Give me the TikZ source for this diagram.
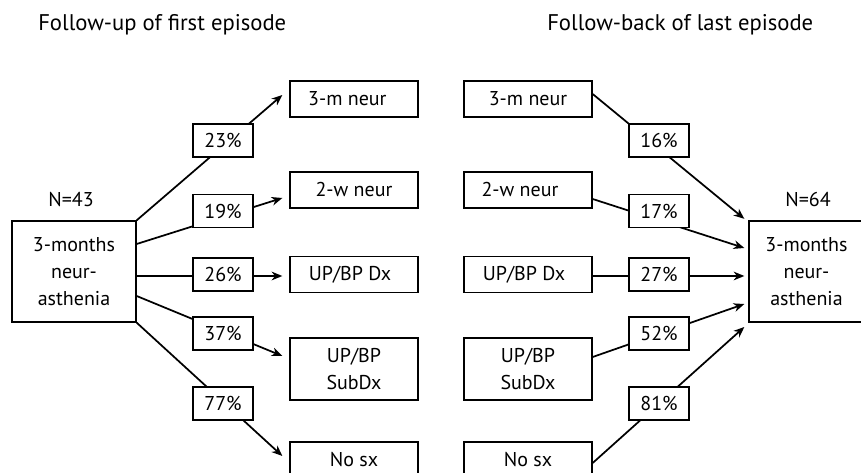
\documentclass[tikz,border=0pt]{standalone}
\usepackage{fontspec}
\setmainfont{PT Sans}
\usetikzlibrary{positioning,calc,arrows.meta}

\begin{document}
\begin{tikzpicture}[
  x=0.75pt, y=-0.75pt,
  font=\fontsize{15}{20.5}\selectfont,
  stagebox/.style={draw,line width=1pt,inner sep=2pt,align=center},
  outcome/.style={stagebox,minimum width=96pt,minimum height=27pt},
  mainbox/.style={stagebox,minimum width=93pt,minimum height=75.75pt},
  pct/.style={draw,fill=white,line width=1pt,minimum width=45pt,minimum height=24.75pt,inner sep=1pt},
  flow/.style={line width=1.3pt,-{Stealth[length=8pt,width=6.5pt,inset=2.5pt]}},
  heading/.style={anchor=west,inner sep=0pt,font=\fontsize{17}{20}\selectfont}
]
  \useasboundingbox (0,0) rectangle (861,473);

  % titles
  \node[heading] (titleL) at (38,25) {Follow-up of first episode};
  \node[heading] (titleR) at (547,25) {Follow-back of last episode};

  % left: follow-up
  \node[mainbox] (L) at (74,271.5) {3-months\\neur-\\asthenia};
  \node (NL) at (71,200) {N=43};
  \node[outcome] (m3L) at (354,99) {3-m neur\hspace*{10pt}};
  \node[outcome] (m2L) at (354,190) {2-w neur};
  \node[outcome] (dxL) at (354,274.5) {UP/BP Dx\hspace*{6pt}};
  \node[outcome,minimum height=46.5pt] (sdL) at (354,369) {UP/BP\\SubDx};
  \node[outcome] (nsL) at (354,460) {No sx};

  % right: follow-back
  \node[mainbox,minimum width=86.25pt] (R) at (806.5,271.5) {3-months\\neur-\\asthenia};
  \node (NR) at (808,200) {N=64};
  \node[outcome] (m3R) at (528,99) {3-m neur};
  \node[outcome] (m2R) at (528,190) {2-w neur\hspace*{12pt}};
  \node[outcome] (dxR) at (528,274.5) {UP/BP Dx\hspace*{6pt}};
  \node[outcome,minimum height=46.5pt] (sdR) at (528,369) {UP/BP\\SubDx};
  \node[outcome] (nsR) at (528,460) {No sx};

  \draw[flow] (L.north east) -- ($(m3L.west)+(-7,-4)$);
  \draw[flow] ($(L.east)+(0,-27.5)$) -- ($(m2L.west)+(-7,8)$);
  \draw[flow] ($(L.east)+(0,4.5)$) -- ($(dxL.west)+(-7,1.5)$);
  \draw[flow] ($(L.east)+(0,24.5)$) -- ($(sdL.west)+(-7,-13)$);
  \draw[flow] (L.south east) -- ($(nsL.west)+(-7,-4)$);

  \draw[flow] ($(m3R.east)+(0,-5)$) -- ($(R.north west)+(-4,-1.5)$);
  \draw[flow] ($(m2R.east)+(0,9)$) -- ($(R.west)+(-4,-23.5)$);
  \draw[flow] ($(dxR.east)+(0,1.5)$) -- ($(R.west)+(-4,4.5)$);
  \draw[flow] ($(sdR.east)+(0,-12)$) -- ($(R.west)+(-4,32.5)$);
  \draw[flow] ($(nsR.east)+(0,3)$) -- ($(R.west)+(-4,55.5)$);

  % percentages
  \node[pct] (p23) at (223,140.5) {23\%};
  \node[pct] (p19) at (223,211) {19\%};
  \node[pct] (p26) at (223,274.5) {26\%};
  \node[pct] (p37) at (223,333.5) {37\%};
  \node[pct] (p77) at (223,403.5) {77\%};

  \node[pct] (p16) at (659,140.5) {16\%};
  \node[pct] (p17) at (659,211) {17\%};
  \node[pct] (p27) at (659,274.5) {27\%};
  \node[pct] (p52) at (659,333.5) {52\%};
  \node[pct] (p81) at (659,403.5) {81\%};
\end{tikzpicture}
\end{document}
